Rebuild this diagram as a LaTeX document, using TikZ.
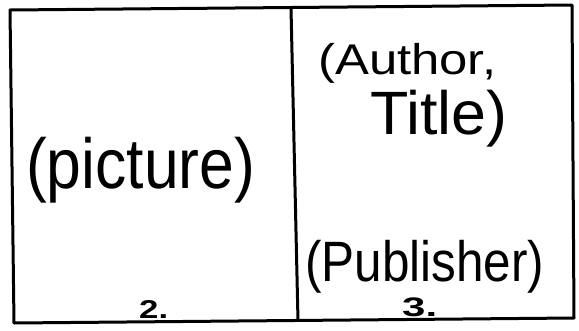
\documentclass[tikz,border=0pt]{standalone}
\usepackage{fontspec}
\setmainfont{Liberation Sans}
\usepackage{graphicx}
\tikzset{
  frame/.style={draw=black, line width=3pt, line join=round},
  hand/.style={inner sep=0pt, anchor=north west, text=black},
}
\begin{document}
\begin{tikzpicture}[x=1pt,y=-1pt]
\useasboundingbox (0,0) rectangle (579,330);
\coordinate (tl) at (10,10);
\coordinate (tr) at (572,5);
\coordinate (br) at (574,318);
\coordinate (bl) at (14,323);
\coordinate (dt) at (291,8);
\coordinate (db) at (298,321);
\draw[frame] (tl) -- (tr) -- (br) -- (bl) -- cycle;
\draw[frame] (dt) -- (db);
\node[hand] (pic) at (26,137) {\resizebox*{229pt}{66pt}{(picture)}};
\node[hand] (aut) at (318,43) {\resizebox*{178pt}{40pt}{(Author,}};
\node[hand] (tit) at (370,90) {\resizebox*{137pt}{57pt}{Title)}};
\node[hand] (pub) at (305,240) {\resizebox*{239pt}{53pt}{(Publisher)}};
\node[hand] (two) at (139,300) {\resizebox*{29pt}{18pt}{\bfseries 2.}};
\node[hand] (three) at (402,298) {\resizebox*{35pt}{19pt}{\bfseries 3.}};
\end{tikzpicture}
\end{document}
